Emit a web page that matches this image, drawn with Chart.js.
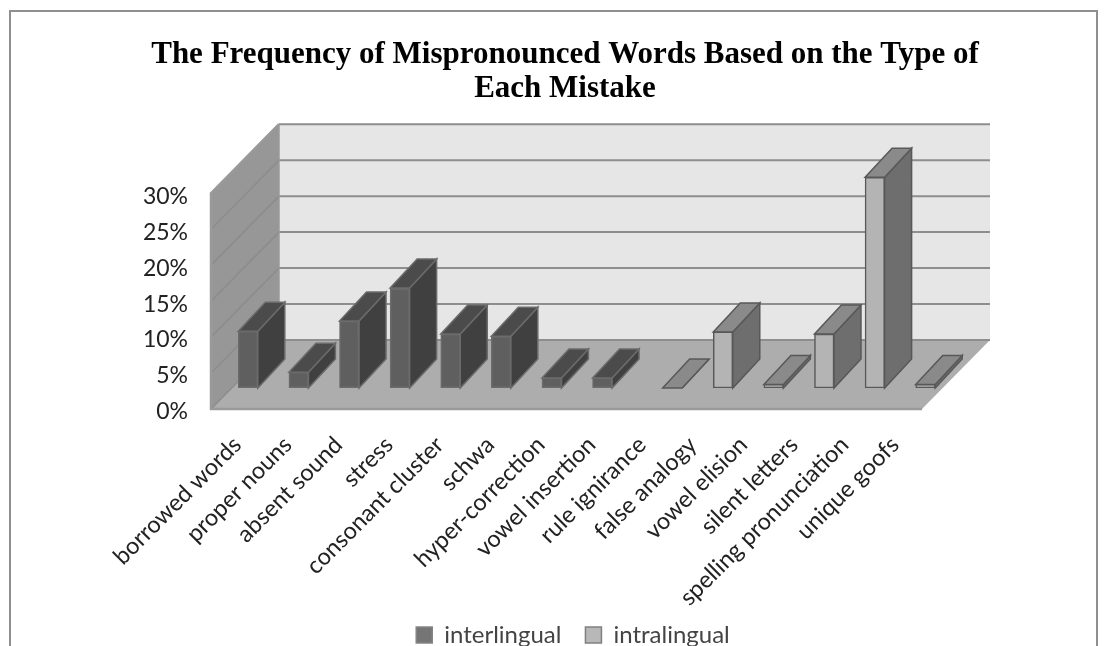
<!DOCTYPE html>
<html><head><meta charset="utf-8">
<style>
html,body{margin:0;padding:0;background:#fff;width:1108px;height:646px;overflow:hidden}
#wrap{position:relative;width:1108px;height:646px}
#frame{position:absolute;left:9px;top:10px;width:1089px;height:640px;border:2px solid #8f8f8f;box-sizing:border-box;pointer-events:none}
canvas{position:absolute;left:0;top:0;filter:blur(0.4px)}
</style>
<script src="https://cdn.jsdelivr.net/npm/chart.js@4/dist/chart.umd.min.js"></script>
</head><body><div id="wrap"><canvas id="c" width="1108" height="646"></canvas><div id="frame"></div></div>
<script>
const categories = ["borrowed words","proper nouns","absent sound","stress","consonant cluster","schwa","hyper-correction","vowel insertion","rule ignirance","false analogy","vowel elision","silent letters","spelling pronunciation","unique goofs"];
const interlingual = [7.9,2.2,9.3,13.9,7.5,7.2,1.4,1.4,null,null,null,null,null,null];
const intralingual = [null,null,null,null,null,null,null,null,0,7.8,0.5,7.5,29.3,0.5];
const yTicks = [0,5,10,15,20,25,30];
const titleLines = ["The Frequency of Mispronounced Words Based on the Type of","Each Mistake"];

const WALL = {dx:68, dy:69}, BAR = {dx:27, dy:29}, SHIFT = {x:21.5, y:-21};
const STYLE = [
  {front:'#5f5f5f', side:'#404040', top:'#4b4b4b', line:'#6b6b6b', key:'#757575', keyLine:'#858585'},
  {front:'#b4b4b4', side:'#6e6e6e', top:'#8a8a8a', line:'#585858', key:'#b8b8b8', keyLine:'#808080'}
];
function poly(ctx, pts, fill, stroke, lw){
  ctx.beginPath();
  pts.forEach((p,i)=> i?ctx.lineTo(p[0],p[1]):ctx.moveTo(p[0],p[1]));
  ctx.closePath();
  if(fill){ctx.fillStyle=fill;ctx.fill();}
  if(stroke){ctx.strokeStyle=stroke;ctx.lineWidth=lw||1;ctx.stroke();}
}
const box3d = {
  id:'box3d',
  afterLayout(chart){
    const l = chart.legend, t = chart.titleBlock;
    if(t){ t.left = 22; t.right = 1108; }
    if(l){ l.left = 38; l.right = 1108; l.top = 599; }
    chart.scales.x.bottom = 646;
  },
  beforeDatasetsDraw(chart){
    const {ctx, chartArea:a, scales:{y}} = chart;
    const L=a.left, R=a.right+2.5, B=a.bottom, T=a.top, dx=WALL.dx, dy=WALL.dy;
    ctx.save();
    poly(ctx,[[L+dx,T-dy],[R+dx,T-dy],[R+dx,B-dy],[L+dx,B-dy]],'#e6e6e6');
    poly(ctx,[[L,T],[L+dx,T-dy],[L+dx,B-dy],[L,B]],'#979797');
    poly(ctx,[[L,B],[L+dx,B-dy],[R+dx,B-dy],[R,B]],'#adadad');
    yTicks.forEach(v=>{
      const py=y.getPixelForValue(v);
      ctx.lineWidth=2;
      ctx.strokeStyle='#8e8e8e';
      ctx.beginPath();ctx.moveTo(L+dx,py-dy);ctx.lineTo(R+dx,py-dy);ctx.stroke();
      ctx.lineWidth=1.5;
      ctx.strokeStyle='#8c8c8c';
      ctx.beginPath();ctx.moveTo(L,py);ctx.lineTo(L+dx,py-dy);ctx.stroke();
    });
    ctx.lineWidth=2.5;ctx.strokeStyle='#9a9a9a';
    ctx.beginPath();ctx.moveTo(L+dx,T-dy);ctx.lineTo(L,T);ctx.lineTo(L,B);ctx.lineTo(R,B);ctx.stroke();
    ctx.lineWidth=1.5;ctx.strokeStyle='#9a9a9a';
    ctx.beginPath();ctx.moveTo(L+dx,T-dy);ctx.lineTo(L+dx,B-dy);ctx.stroke();
    ctx.restore();
    ctx.save();
    ctx.translate(SHIFT.x,SHIFT.y);
    chart.data.datasets.forEach((ds,di)=>{
      const s=STYLE[di];
      chart.getDatasetMeta(di).data.forEach((el,i)=>{
        if(ds.data[i]===null) return;
        const {x,y:ty,base,width}=el.getProps(['x','y','base','width'],false);
        const l=x-width/2,r=x+width/2;
        poly(ctx,[[r,ty],[r+BAR.dx,ty-BAR.dy],[r+BAR.dx,base-BAR.dy],[r,base]],s.side,s.line,1.5);
        poly(ctx,[[l,ty],[l+BAR.dx,ty-BAR.dy],[r+BAR.dx,ty-BAR.dy],[r,ty]],s.top,s.line,1.5);
      });
    });
  },
  afterDatasetsDraw(chart){ chart.ctx.restore(); }
};

new Chart(document.getElementById('c'),{
  type:'bar',
  data:{labels:categories,datasets:[
    {label:'interlingual',data:interlingual,backgroundColor:STYLE[0].front,borderColor:STYLE[0].line,borderWidth:1.5,borderSkipped:false,barThickness:19.5},
    {label:'intralingual',data:intralingual,backgroundColor:STYLE[1].front,borderColor:STYLE[1].line,borderWidth:1.5,borderSkipped:false,barThickness:19.5}
  ]},
  plugins:[box3d],
  options:{
    responsive:false,animation:false,devicePixelRatio:1,
    layout:{padding:{left:22,right:188.5,top:0,bottom:0}},
    plugins:{
      tooltip:{enabled:false},
      title:{display:true,text:titleLines,color:'#000',
        font:{family:'"Liberation Serif"',size:31,weight:'bold',lineHeight:1.1},
        padding:{top:38,bottom:87}},
      legend:{display:true,position:'bottom',
        labels:{color:'#444',font:{family:'Lato',size:24},boxWidth:16,boxHeight:16,padding:24,
          generateLabels:c=>c.data.datasets.map((d,i)=>({text:d.label,fillStyle:STYLE[i].key,strokeStyle:STYLE[i].keyLine,lineWidth:1.5,fontColor:'#444',datasetIndex:i}))}}
    },
    scales:{
      x:{offset:true,grid:{display:false},border:{display:false},
        afterFit(s){s.height=646-409-(s.chart.legend?s.chart.legend.height:48);},
        ticks:{autoSkip:false,minRotation:45,maxRotation:45,color:'#222',labelOffset:1,padding:14,
          font:{family:'Lato',size:23.5}}},
      y:{min:0,max:30,grid:{display:false},border:{display:false},
        afterFit(s){s.width=189;},
        ticks:{stepSize:5,padding:15,labelOffset:3,color:'#222',font:{family:'Lato',size:23},
          callback:v=>v+'%'}}
    }
  }
});
</script></body></html>
